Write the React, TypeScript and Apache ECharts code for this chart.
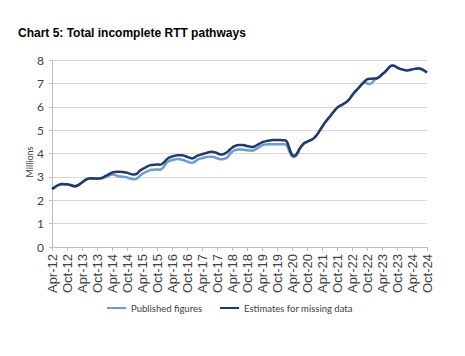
import React, { useEffect, useRef } from "react";
import * as echarts from "echarts";

const MONTHS = ["Jan", "Feb", "Mar", "Apr", "May", "Jun", "Jul", "Aug", "Sep", "Oct", "Nov", "Dec"];
const START_YEAR = 2012;
const START_MONTH = 3; // April
const TITLE = "Chart 5: Total incomplete RTT pathways";
const Y_NAME = "Millions";
const SERIES_NAMES = ["Published figures", "Estimates for missing data"];

// Estimates for missing data (millions), monthly Apr-12 .. Oct-24
const estimates = [
  2.48, 2.55, 2.62, 2.67, 2.69, 2.68, 2.68, 2.66, 2.63, 2.60, 2.62, 2.68,
  2.76, 2.84, 2.90, 2.93, 2.94, 2.93, 2.93, 2.93, 2.96, 3.01, 3.07, 3.13,
  3.18, 3.21, 3.22, 3.22, 3.21, 3.20, 3.18, 3.14, 3.11, 3.10, 3.14, 3.25,
  3.32, 3.38, 3.44, 3.49, 3.51, 3.52, 3.53, 3.52, 3.55, 3.64, 3.76, 3.83,
  3.87, 3.90, 3.93, 3.93, 3.93, 3.90, 3.86, 3.82, 3.79, 3.83, 3.90, 3.93,
  3.97, 4.00, 4.03, 4.06, 4.07, 4.05, 4.02, 3.97, 3.96, 3.99, 4.05, 4.15,
  4.25, 4.31, 4.35, 4.36, 4.36, 4.35, 4.32, 4.30, 4.28, 4.30, 4.36, 4.42,
  4.48, 4.51, 4.54, 4.56, 4.57, 4.58, 4.58, 4.58, 4.57, 4.57, 4.50, 4.20,
  3.95, 3.90, 4.00, 4.20, 4.35, 4.45, 4.50, 4.55, 4.60, 4.68, 4.80, 4.97,
  5.13, 5.30, 5.43, 5.56, 5.70, 5.83, 5.95, 6.03, 6.08, 6.15, 6.22, 6.33,
  6.48, 6.62, 6.73, 6.85, 6.97, 7.08, 7.17, 7.20, 7.20, 7.21, 7.22, 7.28,
  7.38, 7.47, 7.58, 7.70, 7.77, 7.75, 7.68, 7.63, 7.60, 7.57, 7.55, 7.57,
  7.60, 7.62, 7.63, 7.64, 7.60, 7.54, 7.47,
];

// Published figures (millions), monthly Apr-12 .. Oct-24
const published = [
  2.48, 2.55, 2.62, 2.67, 2.69, 2.68, 2.68, 2.66, 2.63, 2.60, 2.62, 2.68,
  2.76, 2.84, 2.90, 2.93, 2.94, 2.93, 2.93, 2.93, 2.94, 2.97, 3.02, 3.07,
  3.10, 3.09, 3.05, 3.02, 3.01, 3.00, 2.98, 2.94, 2.91, 2.90, 2.93, 3.03,
  3.12, 3.18, 3.24, 3.28, 3.30, 3.31, 3.32, 3.31, 3.35, 3.48, 3.62, 3.68,
  3.72, 3.74, 3.76, 3.75, 3.73, 3.70, 3.66, 3.62, 3.60, 3.64, 3.72, 3.77,
  3.80, 3.83, 3.85, 3.86, 3.86, 3.84, 3.80, 3.76, 3.75, 3.78, 3.82, 3.95,
  4.07, 4.13, 4.16, 4.17, 4.17, 4.16, 4.14, 4.13, 4.12, 4.15, 4.21, 4.28,
  4.35, 4.38, 4.39, 4.40, 4.40, 4.40, 4.40, 4.40, 4.40, 4.40, 4.32, 4.08,
  3.88, 3.85, 3.95, 4.17, 4.33, 4.45, 4.50, 4.55, 4.60, 4.68, 4.80, 4.97,
  5.13, 5.30, 5.43, 5.56, 5.70, 5.83, 5.95, 6.03, 6.08, 6.15, 6.22, 6.33,
  6.48, 6.62, 6.73, 6.85, 6.97, 7.05, 7.00, 6.97, 7.02, 7.15, 7.22, 7.28,
  7.38, 7.47, 7.58, 7.70, 7.77, 7.75, 7.68, 7.63, 7.60, 7.57, 7.55, 7.57,
  7.60, 7.62, 7.63, 7.64, 7.60, 7.54, 7.47,
];

const categories = estimates.map((_, i) => {
  const t = START_MONTH + i;
  const y = START_YEAR + Math.floor(t / 12);
  return `${MONTHS[t % 12]}-${String(y % 100).padStart(2, "0")}`;
});

const LIGHT = "#6e9bd0";
const DARK = "#1f3a6b";

export default function App() {
  const ref = useRef<HTMLDivElement>(null);
  useEffect(() => {
    document.body.style.margin = "0";
    if (!ref.current) return;
    const chart = echarts.init(ref.current, undefined, { renderer: "svg" });
    chart.setOption({
      animation: false,
      backgroundColor: "#ffffff",
      textStyle: { fontFamily: "Liberation Sans" },
      title: {
        text: TITLE,
        left: 13,
        top: 22,
        textStyle: { fontFamily: "Liberation Sans", fontWeight: "bold", fontSize: 12, color: "#000" },
      },
      graphic: [
        {
          type: "text",
          x: 29,
          y: 162,
          rotation: Math.PI / 2,
          style: {
            text: Y_NAME,
            fill: "#404040",
            font: "9px Lato",
            align: "center",
            verticalAlign: "middle",
          },
        },
      ],
      legend: {
        data: SERIES_NAMES,
        bottom: 38,
        left: 102,
        icon: "rect",
        itemWidth: 19,
        itemHeight: 2,
        itemGap: 18,
        textStyle: { fontFamily: "Lato", fontSize: 9.5, color: "#404040" },
      },
      grid: { left: 52, right: 38, top: 60, bottom: 109, containLabel: false },
      xAxis: {
        type: "category",
        data: categories,
        boundaryGap: false,
        axisLine: { lineStyle: { color: "#bfbfbf" } },
        axisTick: { interval: 5, length: 4, lineStyle: { color: "#bfbfbf" } },
        axisLabel: {
          interval: 5,
          rotate: 90,
          fontFamily: "Liberation Sans",
          fontSize: 13,
          color: "#404040",
          margin: 7,
        },
        splitLine: { show: false },
      },
      yAxis: {
        type: "value",
        min: 0,
        max: 8,
        interval: 1,
        axisLine: { show: true, lineStyle: { color: "#bfbfbf" } },
        axisTick: { show: true, length: 3, lineStyle: { color: "#bfbfbf" } },
        axisLabel: { fontFamily: "Lato", fontSize: 12, color: "#404040", margin: 8 },
        splitLine: { lineStyle: { color: "#d9d9d9" } },
      },
      series: [
        {
          name: SERIES_NAMES[0],
          type: "line",
          data: published,
          showSymbol: false,
          symbol: "none",
          smooth: 0.3,
          lineStyle: { color: LIGHT, width: 2.5 },
          itemStyle: { color: LIGHT },
          z: 2,
        },
        {
          name: SERIES_NAMES[1],
          type: "line",
          data: estimates,
          showSymbol: false,
          symbol: "none",
          smooth: 0.3,
          lineStyle: { color: DARK, width: 2.5 },
          itemStyle: { color: DARK },
          z: 3,
        },
      ],
    });
    return () => chart.dispose();
  }, []);
  return <div ref={ref} style={{ width: 465, height: 356 }} />;
}
